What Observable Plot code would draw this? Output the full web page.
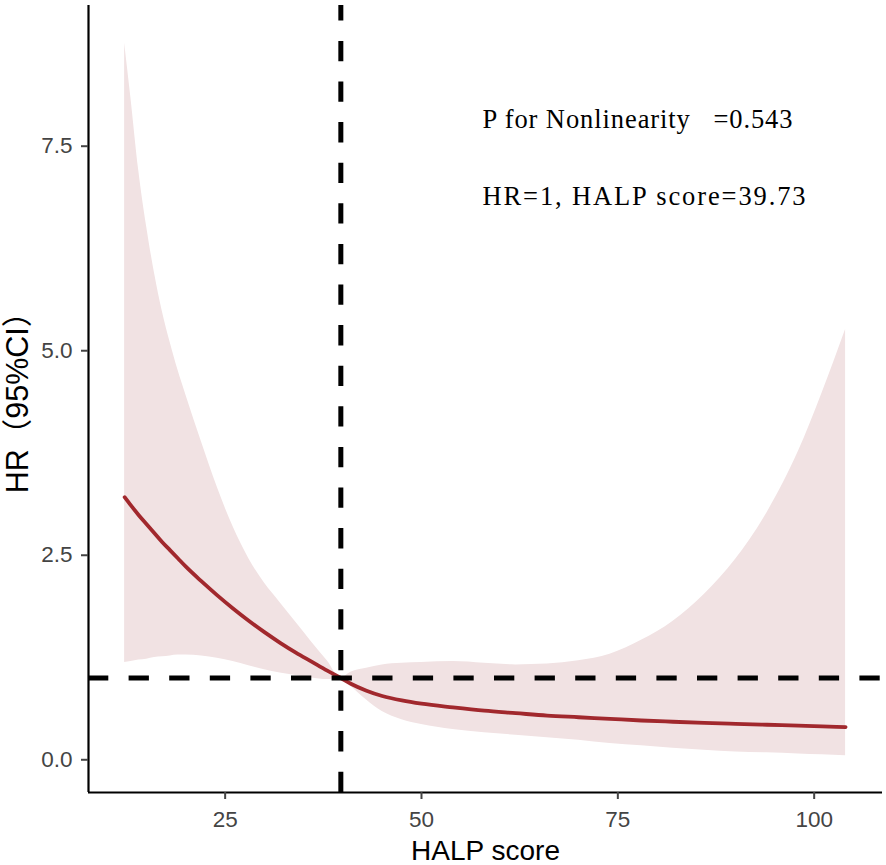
<!DOCTYPE html>
<html>
<head>
<meta charset="utf-8">
<script src="https://cdn.jsdelivr.net/npm/d3@7"></script>
<script src="https://cdn.jsdelivr.net/npm/@observablehq/plot@0.6"></script>
<style>
  html, body { margin: 0; padding: 0; background: #fff; }
  #chart svg { display: block; }
</style>
</head>
<body>
<div id="chart"></div>
<script>
// HALP score grid
const halp = [12.2, 13, 14, 15, 16, 17, 18, 19, 20, 22, 24, 26, 28, 30, 32, 34, 36, 38, 39.73,
  41, 43, 45, 47.5, 50, 54, 58, 62, 66, 70, 74, 78, 82, 86, 90, 94, 98, 101, 104];
// Hazard ratio (fitted spline)
const hr = [3.21, 3.11, 2.99, 2.88, 2.77, 2.66, 2.56, 2.46, 2.36, 2.18, 2.01, 1.85, 1.70, 1.56, 1.43, 1.31, 1.20, 1.09, 1.00,
  0.93, 0.845, 0.78, 0.725, 0.685, 0.64, 0.60, 0.57, 0.54, 0.52, 0.50, 0.48, 0.465, 0.452, 0.44, 0.428, 0.417, 0.408, 0.40];
// 95% CI lower
const lower = [1.19, 1.20, 1.22, 1.23, 1.25, 1.26, 1.27, 1.28, 1.28, 1.27, 1.24, 1.20, 1.15, 1.10, 1.06, 1.03, 1.00, 0.98, 1.00,
  0.90, 0.73, 0.59, 0.49, 0.43, 0.37, 0.33, 0.30, 0.27, 0.24, 0.20, 0.17, 0.14, 0.115, 0.095, 0.085, 0.07, 0.06, 0.05];
// 95% CI upper
const upper = [8.76, 8.09, 7.20, 6.52, 5.95, 5.48, 5.10, 4.76, 4.46, 3.88, 3.33, 2.85, 2.46, 2.16, 1.92, 1.68, 1.44, 1.21, 1.00,
  1.07, 1.12, 1.16, 1.18, 1.19, 1.20, 1.18, 1.16, 1.17, 1.21, 1.29, 1.46, 1.69, 2.02, 2.45, 3.02, 3.77, 4.48, 5.26];

const xTicks = [25, 50, 75, 100];
const yTicks = [0, 2.5, 5.0, 7.5];
const refHR = [1];
const refHALP = [39.73];
const xDomain = [7.6, 108.7];
const yDomain = [-0.40, 9.22];
const annotations = ["P for Nonlinearity\u00a0\u00a0\u00a0=0.543", "HR=1, HALP score=39.73"];
const xTitle = "HALP score";
const yTitle = "HR（95%CI）";

const rows = halp.map((x, i) => ({x, hr: hr[i], lo: lower[i], hi: upper[i]}));

const lineColor = "#A1282D";
const bandColor = "#F1E2E3";
const serif = "'Times New Roman', 'Liberation Serif', serif";

const chart = Plot.plot({
  width: 886,
  height: 865,
  marginLeft: 88,
  marginRight: 4,
  marginTop: 5,
  marginBottom: 73,
  style: {fontFamily: "Arial, 'Liberation Sans', sans-serif", background: "#fff"},
  x: {domain: xDomain},
  y: {domain: yDomain},
  marks: [
    Plot.areaY(rows, {x: "x", y1: "lo", y2: "hi", fill: bandColor, curve: "monotone-x"}),
    Plot.lineY(rows, {x: "x", y: "hr", stroke: lineColor, strokeWidth: 3.8, curve: "monotone-x"}),
    Plot.ruleY(refHR, {stroke: "#000", strokeWidth: 5, strokeDasharray: "20.3,20.3"}),
    Plot.ruleX(refHALP, {y1: yDomain[0], y2: yDomain[1], stroke: "#000", strokeWidth: 5, strokeDasharray: "20.3,20.3"}),
    // axis lines
    Plot.ruleY([yDomain[0]], {stroke: "#000", strokeWidth: 2.2}),
    Plot.ruleX([xDomain[0]], {stroke: "#000", strokeWidth: 2.2}),
    Plot.axisX(xTicks, {tickSize: 7, tickPadding: 12, fontSize: 22.5, color: "#444", strokeWidth: 2, label: null}),
    Plot.axisY(yTicks, {tickSize: 7, tickPadding: 9, fontSize: 22.5, color: "#444", strokeWidth: 2, label: null,
      tickFormat: d3.format(".1f")}),
    Plot.text([xTitle], {frameAnchor: "bottom", textAnchor: "middle", lineAnchor: "bottom", dy: 67, fontSize: 28, fill: "#000"}),
    Plot.text([yTitle], {frameAnchor: "left", textAnchor: "middle", lineAnchor: "middle", rotate: -90, dx: -70, dy: -4,
      fontSize: 30.5, fill: "#000", fontFamily: "Arial, 'Liberation Sans', 'Noto Sans CJK SC', sans-serif"}),
    Plot.text([annotations[0]], {frameAnchor: "top-left", textAnchor: "start", lineAnchor: "bottom",
      dx: 394, dy: 122, fontSize: 26.5, fill: "#000", fontFamily: serif}),
    Plot.text([annotations[1]], {frameAnchor: "top-left", textAnchor: "start", lineAnchor: "bottom",
      dx: 394, dy: 199, fontSize: 26.5, fill: "#000", fontFamily: serif})
  ]
});
// stretch annotation lines to the widths seen in the reference
const targetLengths = new Map([[annotations[0], 310], [annotations[1], 323]]);
chart.querySelectorAll("text").forEach((t) => {
  const len = targetLengths.get(t.textContent);
  if (len) {
    t.setAttribute("textLength", len);
    t.setAttribute("lengthAdjust", "spacing");
  }
});
document.getElementById("chart").appendChild(chart);
</script>
</body>
</html>
